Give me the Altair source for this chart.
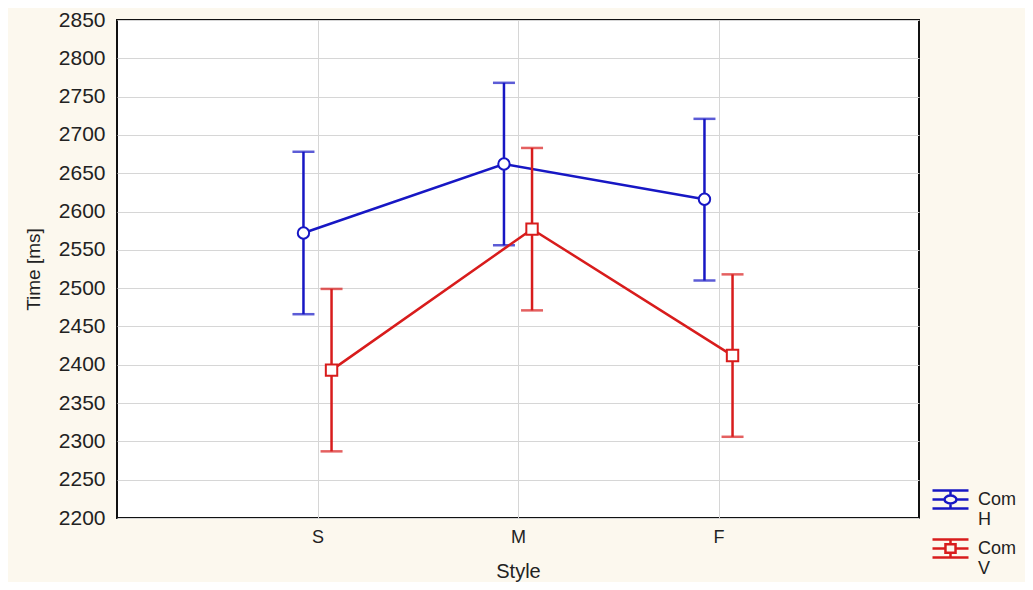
import json
import altair as alt
import pandas as pd

styles = ["S", "M", "F"]
series = ["Com H", "Com V"]
mean_h = [2572, 2662, 2616]
low_h = [2466, 2556, 2510]
high_h = [2678, 2768, 2721]
mean_v = [2393, 2577, 2412]
low_v = [2287, 2471, 2306]
high_v = [2499, 2683, 2518]
y_ticks = list(range(2200, 2851, 50))

colors = ["#1717C4", "#D81C1C"]
marker_shapes = ["circle", "square"]
offsets = [-0.07, 0.07]

rows = []
for s_i, (name, means, lows, highs) in enumerate(
    [(series[0], mean_h, low_h, high_h), (series[1], mean_v, low_v, high_v)]
):
    for i, st in enumerate(styles):
        rows.append({
            "series": name,
            "style": st,
            "pos": i + 1 + offsets[s_i],
            "mean": means[i],
            "low": lows[i],
            "high": highs[i],
        })
df = pd.DataFrame(rows)

label_expr = json.dumps(styles) + "[datum.value - 1]"

x_scale = alt.Scale(domain=[0, len(styles) + 1], nice=False, zero=False)
x_axis = alt.Axis(values=list(range(1, len(styles) + 1)), labelExpr=label_expr,
                  title="Style", grid=True, ticks=False, domain=False,
                  labelFontSize=18, titleFontSize=20, labelPadding=10,
                  titlePadding=15, labelColor="#222", titleColor="#222",
                  titleFontWeight="normal")
y_scale = alt.Scale(domain=[2200, 2850], nice=False, zero=False)
y_axis = alt.Axis(values=y_ticks, format="d", labelOverlap=False, title="Time [ms]",
                  grid=True, ticks=False, domain=False, labelFontSize=21,
                  titleFontSize=19, labelPadding=12, titlePadding=15,
                  labelColor="#222", titleColor="#222", titleFontWeight="normal")


def X(field):
    return alt.X(field, scale=x_scale, axis=x_axis)


def Y(field):
    return alt.Y(field, scale=y_scale, axis=y_axis)


base = alt.Chart(df)
layers = []
for name, col, shp in zip(series, colors, marker_shapes):
    sub = base.transform_filter(alt.datum.series == name)
    layers.append(sub.mark_rule(strokeWidth=2.5, color=col).encode(
        x=X("pos:Q"), y=Y("low:Q"), y2="high:Q"))
    layers.append(sub.transform_fold(["low", "high"], as_=["end", "val"]).mark_tick(
        orient="horizontal", size=22, thickness=2.5, color=col
    ).encode(x=X("pos:Q"), y=Y("val:Q")))
    layers.append(sub.mark_line(strokeWidth=2.5, color=col).encode(
        x=X("pos:Q"), y=Y("mean:Q")))

for name, col, shp in zip(series, colors, marker_shapes):
    sub = base.transform_filter(alt.datum.series == name)
    layers.append(sub.mark_point(
        shape=shp, filled=False, fill="white", fillOpacity=1, strokeWidth=2,
        size=130, opacity=1, color=col
    ).encode(x=X("pos:Q"), y=Y("mean:Q")))

icon_h = ("M-1,-0.5H1M-1,0.5H1M-1,0H-0.33M0.33,0H1M0,-0.5V-0.22M0,0.22V0.5"
          "M-0.33,0A0.33,0.22 0 1,0 0.33,0A0.33,0.22 0 1,0 -0.33,0Z")
icon_v = ("M-1,-0.5H1M-1,0.5H1M-1,0H-0.28M0.28,0H1M0,-0.5V-0.24M0,0.24V0.5"
          "M-0.28,-0.24H0.28V0.24H-0.28Z")

legend_opts = dict(title=None, orient="none", legendX=814, legendY=460,
                   labelExpr="split(datum.label, ' ')",
                   labelFontSize=18, labelColor="#222",
                   symbolSize=1296, symbolStrokeWidth=2.5,
                   symbolFillColor="white", symbolOpacity=1,
                   rowPadding=0, padding=0, labelOffset=8)

legend_layer = base.transform_filter("datum.mean < 0").mark_point(filled=False, opacity=1).encode(
    x=X("pos:Q"), y=Y("mean:Q"),
    color=alt.Color("series:N", scale=alt.Scale(domain=series, range=colors),
                    legend=alt.Legend(**legend_opts)),
    shape=alt.Shape("series:N", scale=alt.Scale(domain=series, range=[icon_h, icon_v]),
                    legend=alt.Legend(**legend_opts)),
)
layers.append(legend_layer)

chart = alt.layer(*layers).properties(
    width=802, height=498,
    autosize=alt.AutoSizeParams(type="none"),
    padding={"left": 109, "top": 12, "right": 106, "bottom": 64},
    background="#FCF8EE",
).configure_view(
    fill="white", stroke="#111", strokeWidth=2
).configure_axis(
    gridColor="#D6D6D6", gridWidth=1, labelFont="Liberation Sans", titleFont="Liberation Sans"
).configure_legend(
    labelFont="Liberation Sans"
)

chart.save("out.html", embed_options={"renderer": "svg", "actions": False})
